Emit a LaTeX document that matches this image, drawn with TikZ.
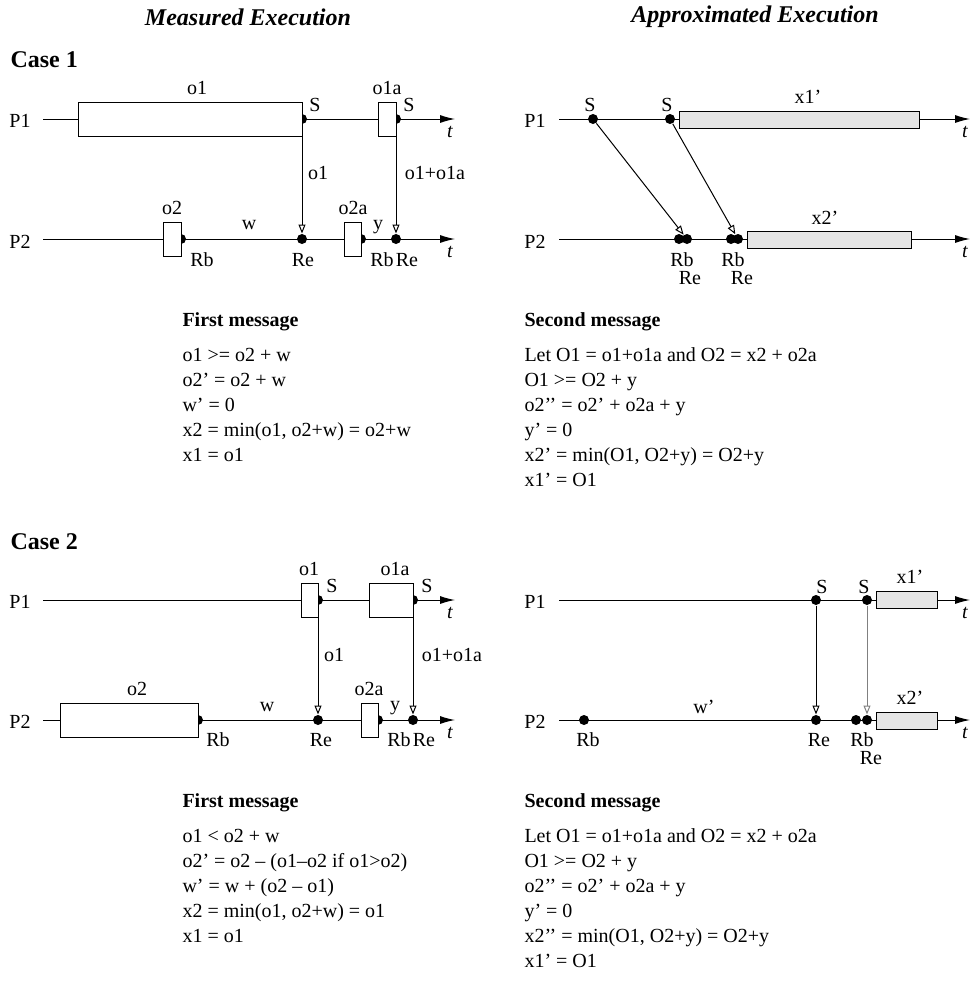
\documentclass[tikz,border=0pt]{standalone}
\usepackage{fontspec}
\setmainfont{Liberation Serif}
\usetikzlibrary{arrows.meta,positioning}
\begin{document}
\begin{tikzpicture}[x=1pt,y=-1pt,line width=1pt,font=\fontsize{20}{25}\selectfont,
  hd/.style={font=\fontsize{24}{29}\selectfont\bfseries\itshape},
  cs/.style={font=\fontsize{24}{29}\selectfont\bfseries,anchor=west,inner sep=0},
  tl/.style={font=\fontsize{20}{25}\selectfont\itshape},
  dot/.style={circle,fill,inner sep=0,minimum size=10pt},
  mbox/.style={draw,fill=white,inner sep=0,outer sep=0,minimum height=34pt},
  abox/.style={draw,fill=gray!20,inner sep=0,outer sep=0,minimum height=17pt},
  axis/.style={-{Latex[length=15pt,width=8pt]}},
  msg/.style={-{Triangle[open,length=9pt,width=7pt]}},
  txt/.style={align=left,anchor=north west,inner sep=0}]
\useasboundingbox (0,0) rectangle (973,983);
\node[hd] (h1) at (248,17) {Measured Execution};
\node[hd] (h2) at (755,17) {Approximated Execution};
\node[cs] (c1) at (10,60) {Case 1};
\node[cs] (c2) at (10,542) {Case 2};
% case 1, measured
\coordinate (a1) at (43,119); \coordinate (b1) at (455,119);
\coordinate (a2) at (43,239); \coordinate (b2) at (455,239);
\draw[axis] (a1) -- (b1);
\draw[axis] (a2) -- (b2);
\node (p1) at (20,121) {P1};
\node (p2) at (20,242) {P2};
\node[tl] (t1) at (450,132) {t};
\node[tl] (t2) at (450,252) {t};
\node[dot] (s1) at (302,119) {};
\node[dot] (s2) at (396,119) {};
\node[dot] (rb1) at (181,239) {};
\node[dot] (re1) at (302,239) {};
\node[dot] (rb2) at (361,239) {};
\node[dot] (re2) at (396,239) {};
\node[mbox,minimum width=224pt] (o1) at (190,119) {};
\node[mbox,minimum width=18pt] (o1a) at (387,119) {};
\node[mbox,minimum width=18pt] (o2) at (172,239.5) {};
\node[mbox,minimum width=17pt] (o2a) at (352.5,239.5) {};
\node (lo1) at (197,88) {o1};
\node (ls1) at (315,105) {S};
\node (lo1a) at (387,88) {o1a};
\node (ls2) at (409,105) {S};
\node (lo2) at (172,208) {o2};
\node (lrb1) at (202,260) {Rb};
\node (lw) at (249,225) {w};
\node (lre1) at (303,260) {Re};
\node (lo2a) at (353,208) {o2a};
\node (ly) at (378,227) {y};
\node (lrb2) at (382,260) {Rb};
\node (lre2) at (407,260) {Re};
\draw[msg] (o1.south east) -- (re1);
\draw[msg] (o1a.south east) -- (re2);
\node (lm1) at (318,173) {o1};
\node (lm2) at (435,173) {o1+o1a};
% case 1, approximated
\coordinate (a3) at (559,119); \coordinate (b3) at (970,119);
\coordinate (a4) at (559,239); \coordinate (b4) at (970,239);
\draw[axis] (a3) -- (b3);
\draw[axis] (a4) -- (b4);
\node (p3) at (535,121) {P1};
\node (p4) at (535,242) {P2};
\node[tl] (t3) at (965,132) {t};
\node[tl] (t4) at (965,252) {t};
\node[dot] (sa1) at (593,119) {};
\node[dot] (sa2) at (670,119) {};
\node[dot] (rb3) at (679,239) {};
\node[dot] (re3) at (687,239) {};
\node[dot] (rb4) at (731,239) {};
\node[dot] (re4) at (738,239) {};
\node[abox,minimum width=240pt] (x1) at (799,119.5) {};
\node[abox,minimum width=164pt] (x2) at (829,239.5) {};
\node (ls3) at (590,105) {S};
\node (ls4) at (667,105) {S};
\node (lx1) at (808,97) {x1'};
\node (lx2) at (825,218) {x2'};
\node (lrb3) at (682,260) {Rb};
\node (lre3) at (690,278) {Re};
\node (lrb4) at (733,260) {Rb};
\node (lre4) at (742,278) {Re};
\draw[msg] (sa1) -- (re3);
\draw[msg] (sa2) -- (re4);
% case 2, measured
\coordinate (a5) at (43,600); \coordinate (b5) at (455,600);
\coordinate (a6) at (43,720); \coordinate (b6) at (455,720);
\draw[axis] (a5) -- (b5);
\draw[axis] (a6) -- (b6);
\node (p5) at (20,602) {P1};
\node (p6) at (20,722) {P2};
\node[tl] (t5) at (450,613) {t};
\node[tl] (t6) at (450,733) {t};
\node[dot] (s3) at (318,600) {};
\node[dot] (s4) at (413,600) {};
\node[dot] (rb5) at (198,720) {};
\node[dot] (re5) at (318,720) {};
\node[dot] (rb6) at (378,720) {};
\node[dot] (re6) at (413,720) {};
\node[mbox,minimum width=17pt] (o3) at (309.5,600) {};
\node[mbox,minimum width=44pt] (o3a) at (391,600) {};
\node[mbox,minimum width=138pt] (o4) at (129,720.5) {};
\node[mbox,minimum width=17pt] (o4a) at (369.5,720.5) {};
\node (lo3) at (309,569) {o1};
\node (ls5) at (332,586) {S};
\node (lo3a) at (395,569) {o1a};
\node (ls6) at (427,586) {S};
\node (lo4) at (137,689) {o2};
\node (lrb5) at (218,740) {Rb};
\node (lw2) at (267,707) {w};
\node (lre5) at (321,740) {Re};
\node (lo4a) at (369,689) {o2a};
\node (ly2) at (395,708) {y};
\node (lrb6) at (399,740) {Rb};
\node (lre6) at (424,740) {Re};
\draw[msg] (o3.south east) -- (re5);
\draw[msg] (o3a.south east) -- (re6);
\node (lm3) at (334,655) {o1};
\node (lm4) at (452,655) {o1+o1a};
% case 2, approximated
\coordinate (a7) at (559,600); \coordinate (b7) at (970,600);
\coordinate (a8) at (559,720); \coordinate (b8) at (970,720);
\draw[axis] (a7) -- (b7);
\draw[axis] (a8) -- (b8);
\node (p7) at (535,602) {P1};
\node (p8) at (535,722) {P2};
\node[tl] (t7) at (965,613) {t};
\node[tl] (t8) at (965,733) {t};
\node[dot] (sa3) at (816,600) {};
\node[dot] (sa4) at (867,600) {};
\node[dot] (rb7) at (584,720) {};
\node[dot] (re7) at (816,720) {};
\node[dot] (rb8) at (856,720) {};
\node[dot] (re8) at (867,720) {};
\node[abox,minimum width=61pt] (x3) at (906.5,600) {};
\node[abox,minimum width=61pt] (x4) at (906.5,720.5) {};
\node (ls7) at (822,587) {S};
\node (ls8) at (864,587) {S};
\node (lx3) at (910,577) {x1'};
\node (lx4) at (910,698) {x2'};
\node (lrb7) at (588,740) {Rb};
\node (lw3) at (704,707) {w'};
\node (lre7) at (819,740) {Re};
\node (lrb8) at (862,740) {Rb};
\node (lre8) at (871,758) {Re};
\draw[msg] (sa3) -- (re7);
\draw[msg,draw=gray] (sa4) -- (re8);
% messages
\node[txt] (m1) at (182,312) {\textbf{First message}\\[10pt]o1 >= o2 + w\\o2' = o2 + w\\w' = 0\\x2 = min(o1, o2+w) = o2+w\\x1 = o1};
\node[txt] (m2) at (524,312) {\textbf{Second message}\\[10pt]Let O1 = o1+o1a and O2 = x2 + o2a\\O1 >= O2 + y\\o2’’ = o2' + o2a + y\\y' = 0\\x2' = min(O1, O2+y) = O2+y\\x1' = O1};
\node[txt] (m3) at (182,793) {\textbf{First message}\\[10pt]o1 < o2 + w\\o2' = o2 -- (o1--o2 if o1>o2)\\w' = w + (o2 -- o1)\\x2 = min(o1, o2+w) = o1\\x1 = o1};
\node[txt] (m4) at (524,793) {\textbf{Second message}\\[10pt]Let O1 = o1+o1a and O2 = x2 + o2a\\O1 >= O2 + y\\o2’’ = o2' + o2a + y\\y' = 0\\x2’’ = min(O1, O2+y) = O2+y\\x1' = O1};
\end{tikzpicture}
\end{document}
